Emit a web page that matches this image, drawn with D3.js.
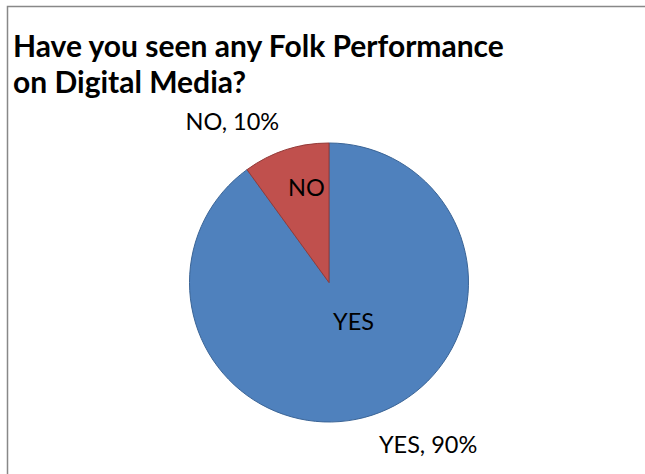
<!DOCTYPE html>
<html>
<head>
<meta charset="utf-8">
<script src="https://cdn.jsdelivr.net/npm/d3@7"></script>
<style>
  body { margin: 0; background: #fff; overflow: hidden; }
  svg { display: block; }
</style>
</head>
<body>
<div id="container"></div>
<script>
// chart data
const categories = ["YES", "NO"];
const values = [90, 10];
const colors = ["#4F81BD", "#C0504D"];
const strokes = ["#3A6496", "#943B39"];
const titleLines = ["Have you seen any Folk Performance", "on Digital Media?"];

let w = 645;
let h = 474;

let viz = d3.select("#container")
    .append("svg")
    .attr("width", w)
    .attr("height", h);

// chart frame: only the top and left edges are inside the window
viz.append("path")
    .attr("d", `M7.5,${h} V6.5 H${w}`)
    .attr("fill", "none")
    .attr("stroke", "#888")
    .attr("stroke-width", 1.5);

// title
viz.append("g")
    .selectAll("text")
    .data(titleLines)
    .join("text")
    .attr("x", 13)
    .attr("y", (d, i) => 57 + i * 36)
    .attr("font-family", "Lato, 'Open Sans', sans-serif")
    .attr("font-weight", "bold")
    .attr("font-size", 30)
    .attr("fill", "#000")
    .text(d => d);

// pie
let cx = 329, cy = 282.5, radius = 139.5;
let data = categories.map((c, i) => ({ name: c, value: values[i], color: colors[i], stroke: strokes[i] }));

let pie = d3.pie().sort(null).value(d => d.value);
let arcs = pie(data);
let arc = d3.arc().innerRadius(0).outerRadius(radius);

let pieGroup = viz.append("g").attr("transform", `translate(${cx},${cy})`);

pieGroup.selectAll("path")
    .data(arcs)
    .join("path")
    .attr("d", arc)
    .attr("fill", d => d.data.color)
    .attr("stroke", d => d.data.stroke)
    .attr("stroke-width", 1);

const labelFont = "Lato, 'Open Sans', sans-serif";
const labelSize = 23.5;

// inside labels, the big slice keeps its label nearer the centre
pieGroup.selectAll(".inner")
    .data(arcs)
    .join("text")
    .classed("inner", true)
    .each(function (d) {
        let big = (d.endAngle - d.startAngle) > Math.PI;
        let r = big ? radius * 0.33 : radius * 0.7;
        let a = (d.startAngle + d.endAngle) / 2 + (big ? -0.25 : 0.08);
        d3.select(this)
            .attr("x", Math.sin(a) * r)
            .attr("y", -Math.cos(a) * r)
            .attr("dy", "0.36em");
    })
    .attr("text-anchor", "middle")
    .attr("font-family", labelFont)
    .attr("font-size", labelSize)
    .attr("fill", "#000")
    .text(d => d.data.name);

// outside labels "NAME, xx%"
let total = d3.sum(values);
pieGroup.selectAll(".outer")
    .data(arcs)
    .join("text")
    .classed("outer", true)
    .each(function (d) {
        let r = radius + 22;
        let a = (d.startAngle + d.endAngle) / 2;
        let x = Math.sin(a) * r;
        let y = -Math.cos(a) * r;
        d3.select(this)
            .attr("x", x)
            .attr("y", y)
            .attr("text-anchor", x < 0 ? "end" : "start")
            .attr("dy", y < 0 ? "0.05em" : "0.72em");
    })
    .attr("font-family", labelFont)
    .attr("font-size", labelSize)
    .attr("fill", "#000")
    .text(d => `${d.data.name}, ${Math.round(d.data.value / total * 100)}%`);
</script>
</body>
</html>
